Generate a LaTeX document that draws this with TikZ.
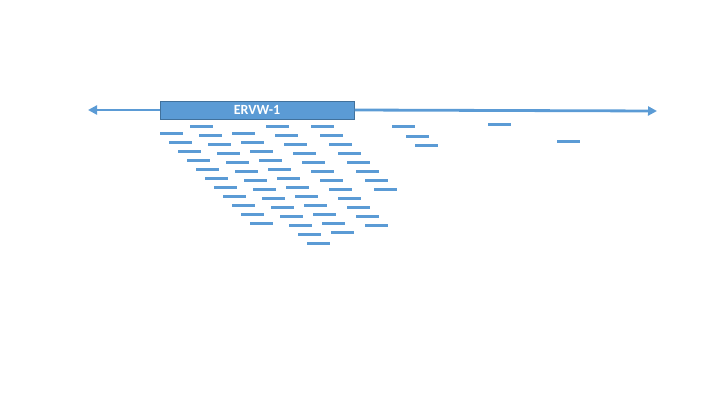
\documentclass[tikz,border=0pt]{standalone}
\usepackage{fontspec}
\setsansfont{Carlito}
\usepackage{tikz}
\usetikzlibrary{arrows.meta,positioning}
\definecolor{erblue}{RGB}{91,155,213}
\definecolor{erdarkblue}{RGB}{65,113,156}
\tikzstyle{arrow} = [line width=2.8pt,-{Triangle[length=9pt,width=9pt]},color=erblue]
\tikzstyle{gene} = [rectangle, minimum width=194pt, minimum height=18pt, inner sep=0pt, draw=erdarkblue, fill=erblue, line width=1pt, text=white, font=\sffamily\bfseries\fontsize{14}{16}\selectfont]
\tikzstyle{readbar} = [line width=3pt, color=erblue]

\begin{document}
\begin{tikzpicture}[x=1pt, y=-1pt]
    \useasboundingbox (0,0) rectangle (720,405);

    % Nodes
    \node[gene] (ervw) at (257,110) {ERVW-1};
    \coordinate (leftend) at (88,110);
    \coordinate (rightend) at (657,111);

    % Arrows
    \draw[arrow] (ervw.west) -- (leftend);
    \draw[arrow] (ervw.east) -- (rightend);

    % Reads below
    \foreach \sx/\sy/\n in {160/133/10, 190/126/13, 232/133/11, 266/126/11, 311/126/7}
        \foreach \k in {0,...,\n}
            \draw[readbar] ({\sx+9*\k},{\sy+9*\k}) -- ++(23,0);
    \foreach \sx/\sy in {392/126, 406/136, 415/145, 488/124, 557/141}
        \draw[readbar] (\sx,\sy) -- ++(23,0);
\end{tikzpicture}
\end{document}
